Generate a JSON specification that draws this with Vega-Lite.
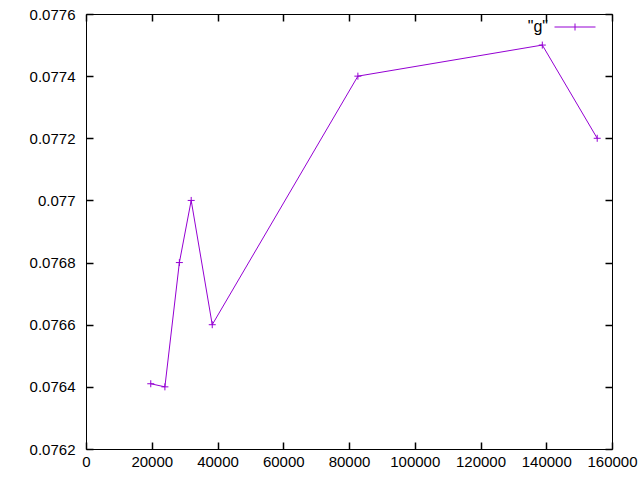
{
  "$schema": "https://vega.github.io/schema/vega-lite/v6.json",
  "width": 526,
  "height": 435,
  "autosize": {"type": "none"},
  "padding": {"left": 86, "top": 14, "right": 28, "bottom": 31},
  "background": "white",
  "config": {
    "view": {"stroke": "black", "strokeWidth": 1},
    "axis": {
      "labelFont": "Liberation Sans",
      "labelFontSize": 15,
      "labelColor": "black",
      "grid": false,
      "domain": false,
      "ticks": true,
      "tickColor": "#000000",
      "tickOpacity": 1,
      "tickSize": 7,
      "tickWidth": 1.5,
      "offset": -7,
      "title": null
    }
  },
  "data": {
    "values": [
      {"x": 19700, "y": 0.07641, "s": "\"g\""},
      {"x": 24000, "y": 0.0764, "s": "\"g\""},
      {"x": 28400, "y": 0.0768, "s": "\"g\""},
      {"x": 32000, "y": 0.077, "s": "\"g\""},
      {"x": 38400, "y": 0.0766, "s": "\"g\""},
      {"x": 82700, "y": 0.0774, "s": "\"g\""},
      {"x": 138800, "y": 0.0775, "s": "\"g\""},
      {"x": 155500, "y": 0.0772, "s": "\"g\""}
    ]
  },
  "layer": [
    {
      "mark": {"type": "line", "strokeWidth": 1, "clip": true},
      "encoding": {
        "x": {"field": "x", "type": "quantitative",
          "scale": {"domain": [0, 160000], "nice": false, "zero": false},
          "axis": {"orient": "bottom", "values": [0,20000,40000,60000,80000,100000,120000,140000,160000], "format": "d", "labelPadding": 5, "labelFlush": false}},
        "y": {"field": "y", "type": "quantitative",
          "scale": {"domain": [0.0762, 0.0776], "nice": false, "zero": false},
          "axis": {"orient": "left", "values": [0.0762,0.0764,0.0766,0.0768,0.077,0.0772,0.0774,0.0776], "format": "~g", "labelPadding": 11, "labelFlush": false}},
        "color": {"field": "s", "type": "nominal",
          "scale": {"range": ["#9400d3"]},
          "legend": {
            "title": null,
            "orient": "none",
            "legendX": 468,
            "legendY": -8,
            "padding": 0,
            "symbolType": "M-1,0H1M0,-0.17V0.17",
            "symbolSize": 1681,
            "symbolStrokeWidth": 1,
            "symbolFillColor": "transparent",
            "labelFont": "Liberation Sans",
            "labelFontSize": 16,
            "labelColor": "black",
            "labelAlign": "right",
            "labelOffset": -48
          }}
      }
    },
    {
      "mark": {"type": "point", "shape": "M-1,0H1M0,-1V1", "size": 49, "filled": false, "strokeWidth": 1, "opacity": 1},
      "encoding": {
        "x": {"field": "x", "type": "quantitative", "axis": null},
        "y": {"field": "y", "type": "quantitative", "axis": null},
        "color": {"field": "s", "type": "nominal"}
      }
    },
    {
      "mark": {"type": "point", "opacity": 0},
      "encoding": {
        "x": {"field": "x", "type": "quantitative",
          "axis": {"orient": "top", "values": [0,20000,40000,60000,80000,100000,120000,140000,160000], "labels": false}},
        "y": {"field": "y", "type": "quantitative",
          "axis": {"orient": "right", "values": [0.0762,0.0764,0.0766,0.0768,0.077,0.0772,0.0774,0.0776], "labels": false}}
      }
    }
  ],
  "resolve": {"axis": {"x": "independent", "y": "independent"}}
}
